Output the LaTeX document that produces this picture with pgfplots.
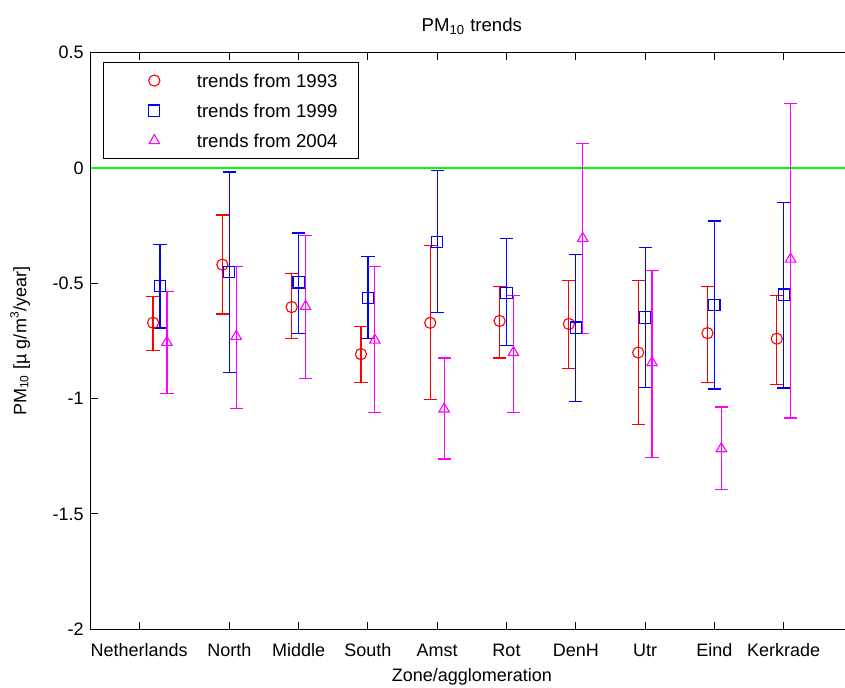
\documentclass[border=0pt]{standalone}
\usepackage{fontspec}
\setmainfont{Liberation Sans}
\usepackage{pgfplots}
\usepackage{pgfplotstable}
\pgfplotsset{compat=1.18}
\definecolor{mred}{RGB}{255,0,0}
\definecolor{mblue}{RGB}{0,0,255}
\definecolor{mmag}{RGB}{255,0,255}
\definecolor{mgreen}{RGB}{0,255,0}

% trends from 1993 (x = category - 0.1)
\pgfplotstableread{
x    y      hi      lo
0.9  -0.671 -0.558  -0.792
1.9  -0.419 -0.204  -0.633
2.9  -0.603 -0.458  -0.740
3.9  -0.807 -0.688  -0.929
4.9  -0.671 -0.337  -1.005
5.9  -0.663 -0.512  -0.824
6.9  -0.676 -0.489  -0.869
7.9  -0.800 -0.489  -1.112
8.9  -0.716 -0.512  -0.929
9.9  -0.740 -0.551  -0.937
}\tA
% trends from 1999
\pgfplotstableread{
x    y      hi      lo
1    -0.510 -0.330  -0.694
2    -0.451 -0.017  -0.885
3    -0.496 -0.282  -0.717
4    -0.564 -0.382  -0.740
5    -0.320 -0.012  -0.626
6    -0.541 -0.307  -0.769
7    -0.692 -0.374  -1.013
8    -0.648 -0.344  -0.953
9    -0.594 -0.230  -0.958
10   -0.549 -0.148  -0.954
}\tB
% trends from 2004
\pgfplotstableread{
x    y      hi      lo
1.1  -0.756 -0.536  -0.976
2.1  -0.730 -0.428  -1.044
3.1  -0.600 -0.292  -0.914
4.1  -0.746 -0.428  -1.060
5.1  -1.045 -0.824  -1.262
6.1  -0.800 -0.551  -1.060
7.1  -0.305  0.108  -0.717
8.1  -0.844 -0.444  -1.256
9.1  -1.217 -1.036  -1.393
10.1 -0.395  0.280  -1.084
}\tC

\begin{document}
\begin{tikzpicture}
\begin{axis}[
  at={(0pt,0pt)}, anchor=south west,
  scale only axis, width=381.15pt, height=288.3pt,
  xmin=0, xmax=11, ymin=-2, ymax=0.5,
  xtick={0.7,2,3,4,5,6,7,8,9,10},
  xticklabels={Netherlands,North,Middle,South,Amst,Rot,DenH,Utr,Eind,Kerkrade},
  ytick={-2,-1.5,-1,-0.5,0,0.5},
  yticklabels={-2,-1.5,-1,-0.5,0,0.5},
  tick align=inside, major tick length=3.5pt,
  tick style={black, line width=0.5pt},
  axis line style={black, line width=0.5pt},
  ticklabel style={font=\fontsize{9}{10}\selectfont},
  xticklabel style={anchor=base, yshift=-13.35pt},
  label style={font=\fontsize{9}{10}\selectfont},
  xlabel={Zone/agglomeration},
  xlabel style={at={(axis description cs:0.5,-0.0909)}, anchor=base},
  ylabel={PM\textsubscript{10} [µ g/m\textsuperscript{3}/year]},
  ylabel style={at={(axis description cs:-0.0926,0.5)}, anchor=center, rotate=0},
  title={PM\textsubscript{10} trends},
  title style={at={(axis description cs:0.5,1)}, anchor=base, yshift=4.4pt, font=\fontsize{9.3}{10}\selectfont},
  legend style={at={(axis description cs:0.0165,0.9844)}, anchor=north west,
    draw=black, line width=0.5pt, inner xsep=0pt, inner ysep=5.9pt, row sep=8.4pt,
    font=\fontsize{9.3}{10}\selectfont,
    nodes={inner sep=0pt, text height=6.6pt, text depth=0pt}},
  legend cell align=left,
  legend image code/.code={\path (0pt,0pt) (46pt,0pt); \draw[#1] plot coordinates {(25pt,0pt)};},
]
\addplot[mgreen, line width=0.55pt, forget plot] coordinates {(0,0) (11,0)};
\addplot[mred, mark=o, only marks, mark size=2.8pt, line width=0.55pt,
  error bars/.cd, y dir=both, y explicit, error mark=-,
  error bar style={mred, line width=0.6pt},
  error mark options={rotate=90, mred, mark size=3.3pt, line width=0.6pt}]
  table[x=x, y=y, y error plus expr=\thisrow{hi}-\thisrow{y}, y error minus expr=\thisrow{y}-\thisrow{lo}] {\tA};
\addlegendentry{trends from 1993\rule{10.5pt}{0pt}}
\addplot[mblue, mark=square, only marks, mark size=2.8pt, line width=0.55pt,
  error bars/.cd, y dir=both, y explicit, error mark=-,
  error bar style={mblue, line width=0.6pt},
  error mark options={rotate=90, mblue, mark size=3.3pt, line width=0.6pt}]
  table[x=x, y=y, y error plus expr=\thisrow{hi}-\thisrow{y}, y error minus expr=\thisrow{y}-\thisrow{lo}] {\tB};
\addlegendentry{trends from 1999\rule{10.5pt}{0pt}}
\addplot[mmag, mark=triangle, only marks, mark size=3pt, line width=0.55pt,
  error bars/.cd, y dir=both, y explicit, error mark=-,
  error bar style={mmag, line width=0.6pt},
  error mark options={rotate=90, mmag, mark size=3.3pt, line width=0.6pt}]
  table[x=x, y=y, y error plus expr=\thisrow{hi}-\thisrow{y}, y error minus expr=\thisrow{y}-\thisrow{lo}] {\tC};
\addlegendentry{trends from 2004\rule{10.5pt}{0pt}}
\end{axis}
\pgfresetboundingbox
\path[use as bounding box] (-45.35pt,-28.85pt) rectangle (377.15pt,314.65pt);
\end{tikzpicture}
\end{document}
